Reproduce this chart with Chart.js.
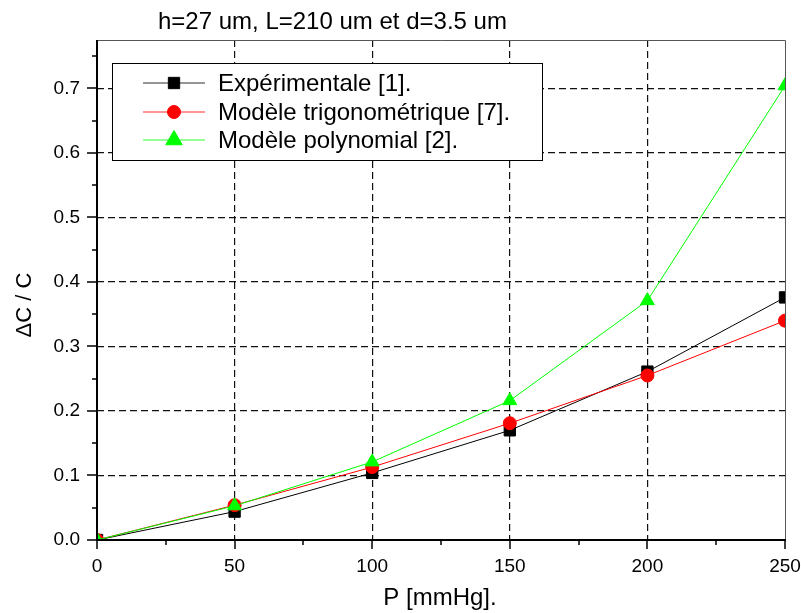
<!DOCTYPE html>
<html>
<head>
<meta charset="utf-8">
<script src="https://cdn.jsdelivr.net/npm/chart.js@4.4.1/dist/chart.umd.min.js"></script>
<style>
  html, body { margin: 0; padding: 0; background: #fff; }
</style>
</head>
<body>
<canvas id="chart" width="801" height="613"></canvas>
<script>
// values
const pressure = [0, 50, 100, 150, 200, 250];
const experimental = [0.0, 0.044, 0.104, 0.170, 0.261, 0.376];
const trigonometric = [0.0, 0.054, 0.113, 0.181, 0.255, 0.340];
const polynomial = [0.0, 0.053, 0.121, 0.216, 0.371, 0.704];
const seriesLabels = ['Expérimentale [1].', 'Modèle trigonométrique [7].', 'Modèle polynomial [2].'];
const xTicks = [0, 50, 100, 150, 200, 250];
const yTicks = [0.0, 0.1, 0.2, 0.3, 0.4, 0.5, 0.6, 0.7];
const chartTitle = 'h=27 um, L=210 um et d=3.5 um';
const xTitle = 'P [mmHg].';
const yTitle = '\u0394C / C';

const FONT = '"Liberation Sans", Arial, sans-serif';

const toPoints = ys => pressure.map((x, i) => ({ x: x, y: ys[i] }));

// axis frame, minor ticks, titles and boxed legend
const decorations = {
  id: 'decorations',
  afterDraw(chart) {
    const ctx = chart.ctx;
    const a = chart.chartArea;
    const xs = chart.scales.x, ys = chart.scales.y;
    ctx.save();

    // top and right frame
    ctx.strokeStyle = '#555';
    ctx.lineWidth = 1;
    ctx.beginPath();
    ctx.moveTo(a.left, a.top + 0.5); ctx.lineTo(a.right + 0.5, a.top + 0.5);
    ctx.lineTo(a.right + 0.5, a.bottom);
    ctx.stroke();

    // left and bottom axes
    ctx.strokeStyle = '#000';
    ctx.lineWidth = 2;
    ctx.beginPath();
    ctx.moveTo(a.left, a.top); ctx.lineTo(a.left, a.bottom);
    ctx.moveTo(a.left, a.bottom); ctx.lineTo(a.right + 1, a.bottom);
    ctx.stroke();

    // tick marks
    ctx.lineWidth = 1.5;
    ctx.beginPath();
    for (let v = 0; v <= 250; v += 25) {
      const px = Math.round(xs.getPixelForValue(v));
      const major = v % 50 === 0;
      ctx.moveTo(px, a.bottom); ctx.lineTo(px, a.bottom + (major ? 9 : 5));
    }
    for (let k = 0; k <= 15; k++) {
      const v = k * 0.05;
      const py = Math.round(ys.getPixelForValue(v));
      const major = k % 2 === 0;
      ctx.moveTo(a.left, py); ctx.lineTo(a.left - (major ? 10 : 5), py);
    }
    ctx.stroke();

    // titles
    ctx.fillStyle = '#000';
    ctx.font = '24px ' + FONT;
    ctx.textBaseline = 'alphabetic';
    ctx.textAlign = 'left';
    ctx.fillText(chartTitle, 158, 29);
    ctx.textAlign = 'center';
    ctx.textBaseline = 'middle';
    ctx.fillText(xTitle, 440, 598);
    ctx.save();
    ctx.translate(25, 305);
    ctx.rotate(-Math.PI / 2);
    ctx.font = '22px ' + FONT;
    ctx.fillText(yTitle, 0, 0);
    ctx.restore();

    // legend box
    const bx = 112, by = 63, bw = 430, bh = 97;
    ctx.fillStyle = '#fff';
    ctx.fillRect(bx, by, bw, bh);
    ctx.strokeStyle = '#000';
    ctx.lineWidth = 1;
    ctx.strokeRect(bx + 0.5, by + 0.5, bw, bh);
    const rows = [83, 112, 140];
    const order = [2, 1, 0];
    order.forEach((di, r) => {
      const ds = chart.data.datasets[di];
      const y = rows[r];
      ctx.save();
      ctx.globalAlpha = 0.55;
      ctx.strokeStyle = ds.borderColor;
      ctx.lineWidth = 1.5;
      ctx.beginPath();
      ctx.moveTo(143, y); ctx.lineTo(205, y);
      ctx.stroke();
      ctx.restore();
      ctx.fillStyle = ds.pointBackgroundColor;
      ctx.strokeStyle = ds.pointBorderColor;
      Chart.helpers.drawPoint(ctx, {
        pointStyle: ds.pointStyle,
        radius: ds.pointStyle === 'triangle' ? 9.5 : (ds.pointStyle === 'rect' ? 8 : 6.5),
        rotation: 0,
        borderWidth: 1
      }, 174, y);
      ctx.fillStyle = '#000';
      ctx.font = '24px ' + FONT;
      ctx.textAlign = 'left';
      ctx.textBaseline = 'middle';
      ctx.fillText(ds.label, 218, y + 1);
    });

    ctx.restore();
  }
};

const gridColor = (edgeValues) => (c) =>
  (c.tick && edgeValues.includes(c.tick.value)) ? 'rgba(0,0,0,0)' : '#111';

new Chart(document.getElementById('chart'), {
  type: 'line',
  data: {
    datasets: [
      {
        label: seriesLabels[2],
        data: toPoints(polynomial),
        borderColor: '#00ff00',
        pointBackgroundColor: '#00ff00',
        pointBorderColor: '#00ff00',
        pointStyle: 'triangle',
        pointRadius: 8,
        borderWidth: 1,
        clip: 0
      },
      {
        label: seriesLabels[1],
        data: toPoints(trigonometric),
        borderColor: '#ff0000',
        pointBackgroundColor: '#ff0000',
        pointBorderColor: '#ff0000',
        pointStyle: 'circle',
        pointRadius: 6.5,
        borderWidth: 1,
        clip: 0
      },
      {
        label: seriesLabels[0],
        data: toPoints(experimental),
        borderColor: '#000000',
        pointBackgroundColor: '#000000',
        pointBorderColor: '#000000',
        pointStyle: 'rect',
        pointRadius: 8,
        borderWidth: 1,
        clip: 0
      }
    ]
  },
  options: {
    responsive: false,
    animation: false,
    layout: { padding: { top: 40, right: 16, left: 0, bottom: 0 } },
    plugins: {
      legend: { display: false },
      tooltip: { enabled: false },
      title: { display: false }
    },
    elements: { line: { tension: 0 } },
    scales: {
      x: {
        type: 'linear',
        min: 0,
        max: 250,
        afterBuildTicks: s => { s.ticks = xTicks.map(v => ({ value: v })); },
        afterFit: s => { s.height = 73; s.paddingLeft = 0; s.paddingRight = 0; },
        ticks: {
          color: '#000',
          font: { family: FONT, size: 19 },
          padding: 15,
          maxRotation: 0,
          callback: v => String(v)
        },
        grid: { color: gridColor([0, 250]), lineWidth: 1.2, drawTicks: false },
        border: { display: false, dash: [7, 4] }
      },
      y: {
        type: 'linear',
        min: 0,
        max: 0.775,
        afterBuildTicks: s => { s.ticks = yTicks.map(v => ({ value: v })); },
        afterFit: s => { s.width = 97; s.paddingTop = 0; s.paddingBottom = 0; },
        ticks: {
          color: '#000',
          font: { family: FONT, size: 19 },
          padding: 17,
          callback: v => v.toFixed(1)
        },
        grid: { color: gridColor([0]), lineWidth: 1.2, drawTicks: false },
        border: { display: false, dash: [7, 4] }
      }
    }
  },
  plugins: [decorations]
});
</script>
</body>
</html>
